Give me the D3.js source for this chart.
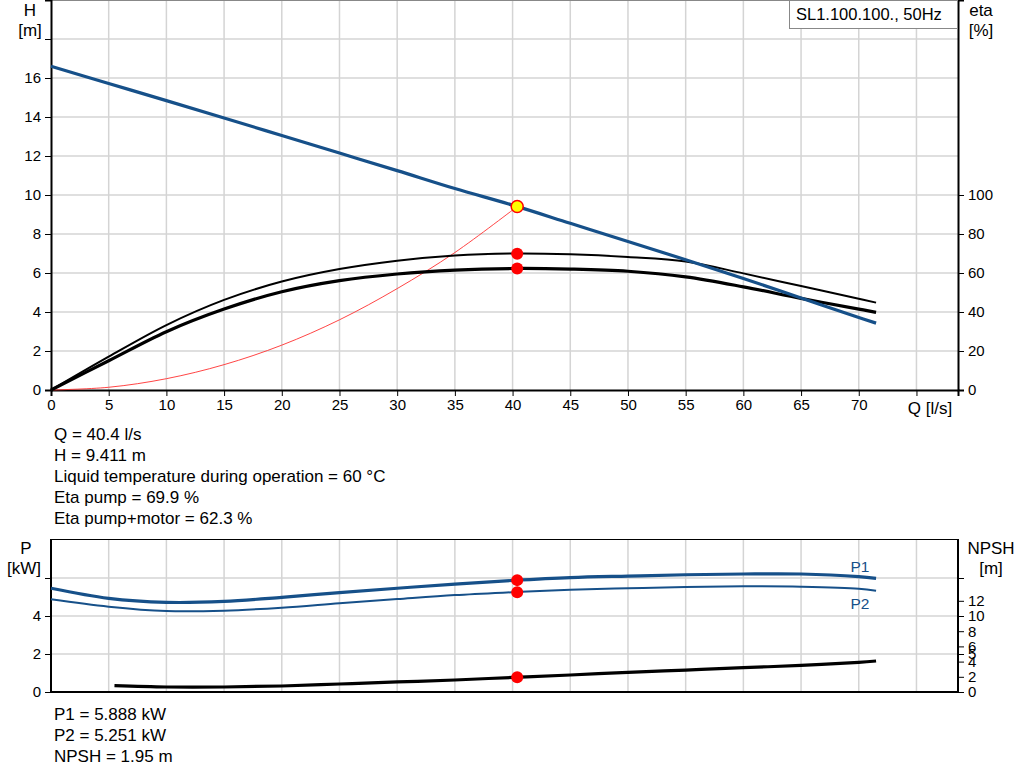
<!DOCTYPE html>
<html>
<head>
<meta charset="utf-8">
<script src="https://cdn.jsdelivr.net/npm/d3@7"></script>
<style>
  body { margin: 0; background: #fff; }
  svg { font-family: "Liberation Sans", Arial, sans-serif; }
  .grid line { stroke: #d4d4d4; stroke-width: 1.5; }
  .axis text { font-size: 15px; fill: #000; }
  .axis path, .axis line { stroke: #000; }
  .axis path { stroke-width: 2; }
  .info { font-size: 17px; fill: #000; }
</style>
</head>
<body>
<div id="chart"></div>
<script>
var svgWidth = 1024;
var svgHeight = 781;

// flow points (l/s)
var flow = [0, 5, 10, 15, 20, 25, 30, 35, 40, 45, 50, 55, 60, 65, 70, 71.5];
// pump curves
var head = [16.6, 15.72, 14.84, 13.95, 13.05, 12.15, 11.25, 10.33, 9.48, 8.55, 7.62, 6.68, 5.72, 4.72, 3.72, 3.43];
var etaPump = [0, 17.1, 33.3, 46.2, 55.6, 62, 66.3, 69, 70, 69.6, 68.2, 65.9, 59.8, 53.3, 46.8, 44.8];
var etaTotal = [0, 15, 29.9, 41.5, 50.4, 56.1, 59.5, 61.5, 62.3, 62, 60.9, 58, 52.9, 47, 41.5, 39.8];
var powerP1 = [5.46, 4.93, 4.72, 4.77, 4.98, 5.23, 5.46, 5.68, 5.87, 6.02, 6.1, 6.17, 6.21, 6.21, 6.07, 5.98];
var powerP2 = [4.88, 4.49, 4.26, 4.28, 4.44, 4.67, 4.89, 5.1, 5.25, 5.38, 5.46, 5.53, 5.56, 5.54, 5.44, 5.33];

// NPSH starts a bit later
var npshFlow = [5.5, 10, 15, 20, 25, 30, 35, 40, 45, 50, 55, 60, 65, 70, 71.5];
var npsh = [0.83, 0.66, 0.66, 0.79, 1.05, 1.32, 1.58, 1.92, 2.24, 2.59, 2.89, 3.2, 3.5, 3.9, 4.08];

// system curve through duty point
var sysFlow = [0, 5, 10, 15, 20, 25, 30, 35, 40.4];
var sysHead = [0, 0.14, 0.58, 1.3, 2.3, 3.6, 5.2, 7.05, 9.41];

// duty point
var duty = { q: 40.4, h: 9.411, eta: 69.9, etaT: 62.3, p1: 5.888, p2: 5.251, npsh: 1.95 };

var qTicks = [0, 5, 10, 15, 20, 25, 30, 35, 40, 45, 50, 55, 60, 65, 70, 75];
var hTicks = [0, 2, 4, 6, 8, 10, 12, 14, 16, 18];
var etaTicks = [0, 20, 40, 60, 80, 100];
var pTicks = [0, 2, 4, 6];
var npshTicks = [0, 2, 4, 5, 6, 8, 10, 12, 15];

var infoTop = ["Q = 40.4 l/s", "H = 9.411 m", "Liquid temperature during operation = 60 \u00B0C",
  "Eta pump = 69.9 %", "Eta pump+motor = 62.3 %"];
var infoBottom = ["P1 = 5.888 kW", "P2 = 5.251 kW", "NPSH = 1.95 m"];

var blue = "#165089";

var svg = d3.select("#chart").append("svg")
  .attr("width", svgWidth)
  .attr("height", svgHeight);

// scales
var x = d3.scaleLinear().domain([0, 78.6]).range([51, 958]);
var yH = d3.scaleLinear().domain([0, 20]).range([390, 0]);
var yEta = d3.scaleLinear().domain([0, 200]).range([390, 0]);
var yP = d3.scaleLinear().domain([0, 8]).range([692, 540]);
var yN = d3.scaleLinear().domain([0, 20]).range([692, 540]);

function lineOf(xs, ys, yScale) {
  var pts = xs.map((q, i) => [x(q), yScale(ys[i])]);
  return d3.line().curve(d3.curveCatmullRom.alpha(0.5))(pts);
}

// ============ top chart ============
var gridTop = svg.append("g").attr("class", "grid");
gridTop.selectAll(".v").data(qTicks.slice(1)).enter().append("line")
  .attr("x1", d => x(d)).attr("x2", d => x(d)).attr("y1", 0).attr("y2", 390);
gridTop.selectAll(".h").data(hTicks.slice(1)).enter().append("line")
  .attr("x1", 51).attr("x2", 958).attr("y1", d => yH(d)).attr("y2", d => yH(d));

// top border
svg.append("line").attr("x1", 51).attr("x2", 958).attr("y1", 0.5).attr("y2", 0.5)
  .attr("stroke", "#888").attr("stroke-width", 1);

svg.append("g").attr("class", "axis")
  .attr("transform", "translate(0,390)")
  .call(d3.axisBottom(x).tickValues(qTicks).tickSize(6).tickPadding(3)
    .tickFormat(d => d == 75 ? "" : d));

svg.append("g").attr("class", "axis")
  .attr("transform", "translate(51,0)")
  .call(d3.axisLeft(yH).tickValues(hTicks).tickSize(6).tickPadding(4)
    .tickFormat(d => d == 18 ? "" : d));

svg.append("g").attr("class", "axis")
  .attr("transform", "translate(958,0)")
  .call(d3.axisRight(yEta).tickValues(etaTicks).tickSize(6).tickPadding(4));

// curves
svg.append("path").attr("d", lineOf(sysFlow, sysHead, yH))
  .attr("fill", "none").attr("stroke", "#ff3030").attr("stroke-width", 0.9);
svg.append("path").attr("d", lineOf(flow, etaPump, yEta))
  .attr("fill", "none").attr("stroke", "#000").attr("stroke-width", 2);
svg.append("path").attr("d", lineOf(flow, etaTotal, yEta))
  .attr("fill", "none").attr("stroke", "#000").attr("stroke-width", 3.2);
svg.append("path").attr("d", lineOf(flow, head, yH))
  .attr("fill", "none").attr("stroke", blue).attr("stroke-width", 3.2);

// duty markers
svg.append("circle").attr("cx", x(duty.q)).attr("cy", yEta(duty.eta)).attr("r", 6).attr("fill", "#ff0000");
svg.append("circle").attr("cx", x(duty.q)).attr("cy", yEta(duty.etaT)).attr("r", 6).attr("fill", "#ff0000");
svg.append("circle").attr("cx", x(duty.q)).attr("cy", yH(duty.h)).attr("r", 6)
  .attr("fill", "#ffff00").attr("stroke", "#ff0000").attr("stroke-width", 1.5);

// labels
svg.append("text").attr("x", 30).attr("y", 16).attr("text-anchor", "middle").attr("class", "info").text("H");
svg.append("text").attr("x", 30).attr("y", 36).attr("text-anchor", "middle").attr("class", "info").text("[m]");
svg.append("text").attr("x", 981).attr("y", 16).attr("text-anchor", "middle").attr("class", "info").text("eta");
svg.append("text").attr("x", 981).attr("y", 36).attr("text-anchor", "middle").attr("class", "info").text("[%]");
svg.append("text").attr("x", 930).attr("y", 414).attr("text-anchor", "middle").attr("class", "info").text("Q [l/s]");

// legend box
svg.append("rect").attr("x", 789.5).attr("y", 0.5).attr("width", 168).attr("height", 28)
  .attr("fill", "#fff").attr("stroke", "#888");
svg.append("text").attr("x", 796).attr("y", 20).attr("class", "info").style("font-size", "16.5px")
  .text("SL1.100.100., 50Hz");

svg.selectAll(".infoTop").data(infoTop).enter().append("text")
  .attr("class", "info")
  .attr("x", 54).attr("y", (d, i) => 440 + i * 21)
  .text(d => d);

// ============ bottom chart ============
var gridBot = svg.append("g").attr("class", "grid");
gridBot.selectAll(".v").data(qTicks.slice(1)).enter().append("line")
  .attr("x1", d => x(d)).attr("x2", d => x(d)).attr("y1", 540).attr("y2", 692);
gridBot.selectAll(".h").data(pTicks.slice(1)).enter().append("line")
  .attr("x1", 51).attr("x2", 958).attr("y1", d => yP(d)).attr("y2", d => yP(d));

svg.append("line").attr("x1", 51).attr("x2", 958).attr("y1", 539.5).attr("y2", 539.5)
  .attr("stroke", "#000").attr("stroke-width", 1);

svg.append("line").attr("x1", 51).attr("x2", 958).attr("y1", 692).attr("y2", 692)
  .attr("stroke", "#000").attr("stroke-width", 2);

svg.append("g").attr("class", "axis pAxis")
  .attr("transform", "translate(51,0)")
  .call(d3.axisLeft(yP).tickValues(pTicks).tickSize(6).tickPadding(4)
    .tickFormat(d => d == 6 ? "" : d));

svg.append("g").attr("class", "axis nAxis")
  .attr("transform", "translate(958,0)")
  .call(d3.axisRight(yN).tickValues(npshTicks).tickSize(6).tickPadding(4)
    .tickFormat(d => d == 15 ? "" : d));

// both side axes run up to the top border
svg.selectAll(".pAxis .domain, .nAxis .domain").attr("d", "M0,539V692");

svg.append("path").attr("d", lineOf(npshFlow, npsh, yN))
  .attr("fill", "none").attr("stroke", "#000").attr("stroke-width", 3.2);
svg.append("path").attr("d", lineOf(flow, powerP2, yP))
  .attr("fill", "none").attr("stroke", blue).attr("stroke-width", 2);
svg.append("path").attr("d", lineOf(flow, powerP1, yP))
  .attr("fill", "none").attr("stroke", blue).attr("stroke-width", 3.2);

svg.append("circle").attr("cx", x(duty.q)).attr("cy", yP(duty.p1)).attr("r", 6).attr("fill", "#ff0000");
svg.append("circle").attr("cx", x(duty.q)).attr("cy", yP(duty.p2)).attr("r", 6).attr("fill", "#ff0000");
svg.append("circle").attr("cx", x(duty.q)).attr("cy", yN(duty.npsh)).attr("r", 6).attr("fill", "#ff0000");

svg.append("text").attr("x", 860).attr("y", 572).attr("text-anchor", "middle").attr("class", "info")
  .style("font-size", "15.5px").style("fill", blue).text("P1");
svg.append("text").attr("x", 860).attr("y", 609).attr("text-anchor", "middle").attr("class", "info")
  .style("font-size", "15.5px").style("fill", blue).text("P2");

svg.append("text").attr("x", 26).attr("y", 554).attr("text-anchor", "middle").attr("class", "info").text("P");
svg.append("text").attr("x", 24).attr("y", 574).attr("text-anchor", "middle").attr("class", "info").text("[kW]");
svg.append("text").attr("x", 991).attr("y", 554).attr("text-anchor", "middle").attr("class", "info").text("NPSH");
svg.append("text").attr("x", 991).attr("y", 574).attr("text-anchor", "middle").attr("class", "info").text("[m]");

svg.selectAll(".infoBot").data(infoBottom).enter().append("text")
  .attr("class", "info")
  .attr("x", 54).attr("y", (d, i) => 720 + i * 21)
  .text(d => d);
</script>
</body>
</html>
